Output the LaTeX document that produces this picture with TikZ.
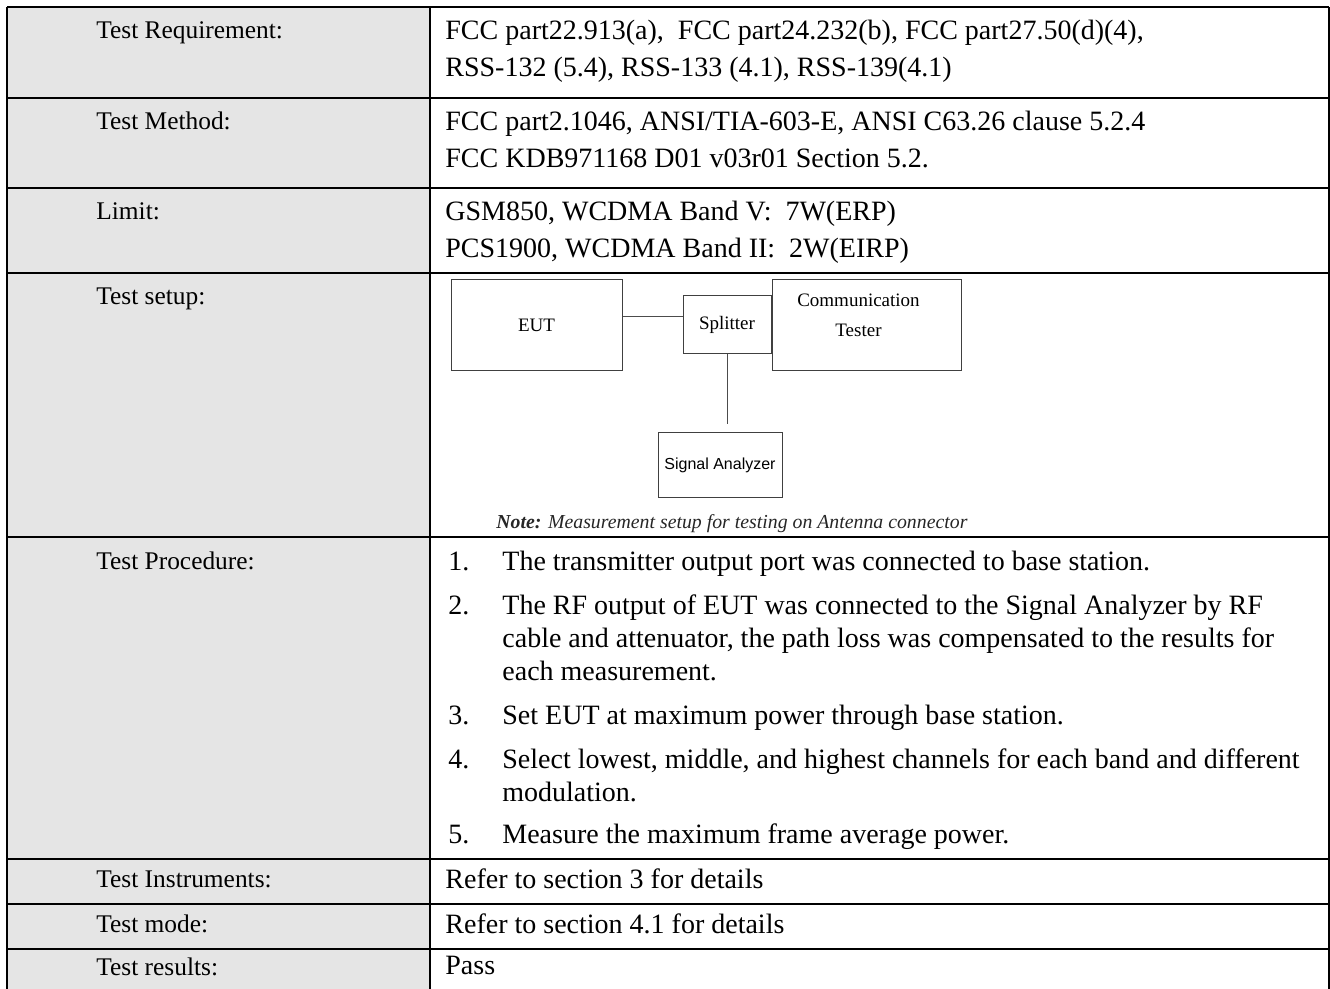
\documentclass[tikz,border=0pt]{standalone}
\usepackage{fontspec}
\setmainfont{Liberation Serif}
\newfontfamily\arialfont{Liberation Sans}
\usetikzlibrary{positioning}

\begin{document}
\begin{tikzpicture}[x=0.5pt,y=-0.5pt,
  rule/.style={line width=1pt,draw=black},
  cell/.style={anchor=base west,inner sep=0pt,font=\fontsize{12.7}{15}\selectfont},
  val/.style={cell,font=\fontsize{14}{16}\selectfont},
  box/.style={draw=black!75,line width=0.5pt,inner sep=0pt,font=\fontsize{9.5}{11.5}\selectfont},
  wire/.style={draw=black!70,line width=0.5pt}]
  \colorlet{cellgray}{black!10}

  \useasboundingbox (0,0) rectangle (1330,989);

  % table
  \fill[cellgray] (7,7) rectangle (430,995);
  \foreach \y in {7,98,188,273,537,859,904,949}
    \draw[rule] (7,\y) -- (1329,\y);
  \foreach \x in {7,430,1329}
    \draw[rule] (\x,7) -- (\x,995);

  % left column
  \node[cell] (req)   at (96,39)  {Test Requirement:};
  \node[cell] (meth)  at (96,130) {Test Method:};
  \node[cell] (lim)   at (96,220) {Limit:};
  \node[cell] (setup) at (96,305) {Test setup:};
  \node[cell] (proc)  at (96,570) {Test Procedure:};
  \node[cell] (instr) at (96,888) {Test Instruments:};
  \node[cell] (mode)  at (96,933) {Test mode:};
  \node[cell] (res)   at (96,975) {Test results:};

  % right column
  \node[val] (req a)  at (445,40)  {FCC part22.913(a),~ FCC part24.232(b), FCC part27.50(d)(4),};
  \node[val] (req b)  at (445,77)  {RSS-132 (5.4), RSS-133 (4.1), RSS-139(4.1)};
  \node[val] (meth a) at (445,131) {FCC part2.1046, ANSI/TIA-603-E, ANSI C63.26 clause 5.2.4};
  \node[val] (meth b) at (445,168) {FCC KDB971168 D01 v03r01 Section 5.2.};
  \node[val] (lim a)  at (445,221) {GSM850, WCDMA Band V:~ 7W(ERP)};
  \node[val] (lim b)  at (445,258) {PCS1900, WCDMA Band II:~ 2W(EIRP)};
  \node[val] (instr a) at (445,889) {Refer to section 3 for details};
  \node[val] (mode a)  at (445,934) {Refer to section 4.1 for details};
  \node[val] (res a)   at (445,974) {Pass};

  % procedure
  \foreach \n/\y in {1/571,2/615,3/725,4/769,5/844}
    \node[val] (num \n) at (448,\y) {\n.};
  \foreach \n/\y/\t in {
      1/571/{The transmitter output port was connected to base station.},
      2/615/{The RF output of EUT was connected to the Signal Analyzer by RF},
      3/648/{cable and attenuator, the path loss was compensated to the results for},
      4/681/{each measurement.},
      5/725/{Set EUT at maximum power through base station.},
      6/769/{Select lowest, middle, and highest channels for each band and different},
      7/802/{modulation.},
      8/844/{Measure the maximum frame average power.}}
    \node[val] (line \n) at (502,\y) {\t};

  % setup
  \node[box,minimum width=44pt,minimum height=29pt] (spl) at (727,325) {Splitter};
  \node[box,minimum width=85.5pt,minimum height=45.5pt,left=30pt of spl] (eut) {EUT};
  \node[box,minimum width=94.5pt,minimum height=45.5pt,right=0pt of spl,
    label={[font=\fontsize{9.5}{15}\selectfont,align=center,xshift=-4pt,yshift=5pt]center:Communication\\Tester}] (ct) {};
  \node[box,minimum width=62pt,minimum height=32.5pt,below=39pt of spl,xshift=-3.5pt,
    font=\arialfont\fontsize{8}{10}\selectfont] (sa) {Signal Analyzer};
  \coordinate (tap) at (spl.south |- sa.north);

  \draw[wire] ([yshift=4pt]eut.east) -- ([yshift=4pt]spl.west);
  \draw[wire] (spl.south) -- ([yshift=4pt]tap);

  \node[anchor=base west,inner sep=0pt,text=black!85,font=\itshape\fontsize{9.9}{12}\selectfont]
    (cap) at (496,529) {\textbf{Note:} Measurement setup for testing on Antenna connector};
\end{tikzpicture}
\end{document}
